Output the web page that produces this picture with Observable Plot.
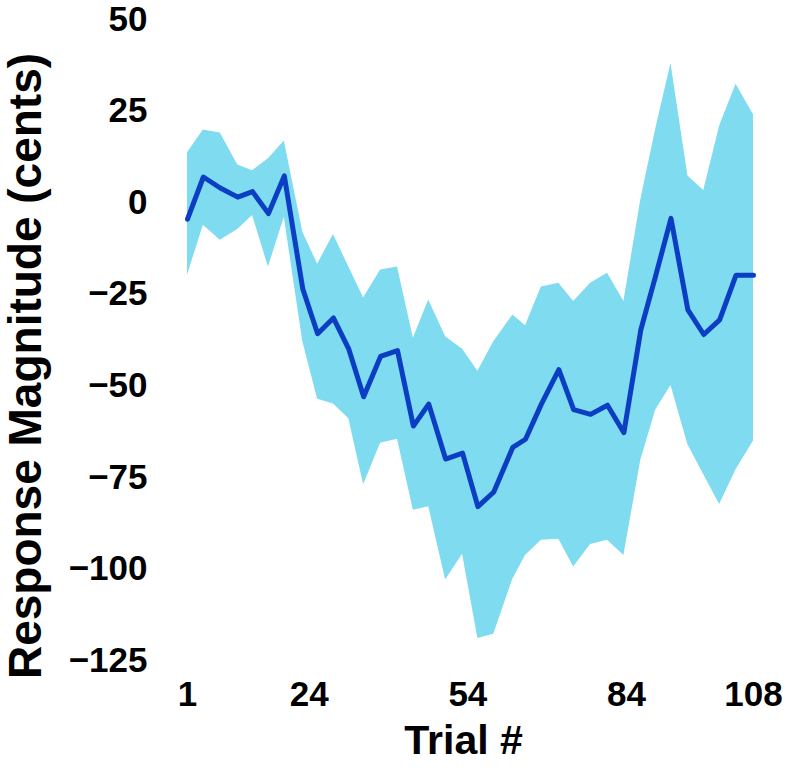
<!DOCTYPE html>
<html>
<head>
<meta charset="utf-8">
<script src="https://cdn.jsdelivr.net/npm/d3@7"></script>
<script src="https://cdn.jsdelivr.net/npm/@observablehq/plot@0.6"></script>
<style>
  html, body { margin: 0; padding: 0; background: #fff; }
</style>
</head>
<body>
<div id="chart"></div>
<script>
const trials = [1, 4.0, 7.2, 10.5, 13.3, 16.3, 19.3, 22.8, 25.6, 28.6, 31.5, 34.3, 37.5, 40.7, 43.7, 46.6, 49.8, 53.0, 55.9, 58.9, 62.5, 64.9, 67.9, 71.2, 74.0, 77.2, 80.4, 83.5, 86.7, 89.5, 92.4, 95.6, 98.6, 101.6, 104.7, 108];
const meanValues = [-4.5, 7, 4, 1.5, 3, -3, 7.3, -23.6, -35.8, -31.5, -40, -53, -42, -40.4, -61, -55, -70, -68.4, -83, -79, -66.8, -64.6, -55, -45.6, -56.5, -57.8, -55.3, -62.8, -34.7, -20, -4.3, -29.3, -36, -32, -19.8, -19.8];
const upperValues = [13.6, 19.8, 19, 10.3, 8.7, 12, 16.8, -8.1, -16.8, -8.7, -17.6, -26, -18.4, -17.6, -37, -26.6, -36.6, -40, -46, -38, -30.7, -33.6, -23, -22, -27, -22, -19.3, -27, 0.8, 20, 38, 7.3, 3.3, 20.9, 32.3, 24];
const lowerValues = [-19.8, -6.2, -10.3, -7.3, -3.5, -17.6, -4, -38, -53.7, -55, -59, -77, -65.7, -64.6, -84, -83, -103, -96, -119, -117.8, -102.8, -96.3, -92.2, -91.9, -99.5, -93.3, -92.2, -96.3, -70.3, -56.7, -49.9, -66.1, -74.3, -82.4, -72.9, -65.1];
const xTicks = [1, 24, 54, 84, 108];
const yTicks = [50, 25, 0, -25, -50, -75, -100, -125];

const data = trials.map((t, i) => ({trial: t, mean: meanValues[i], lo: lowerValues[i], hi: upperValues[i]}));

const font = "'Liberation Sans', Arial, Helvetica, sans-serif";

const chart = Plot.plot({
  width: 787,
  height: 770,
  marginLeft: 187,
  marginRight: 34,
  marginTop: 19,
  marginBottom: 110,
  style: {fontFamily: font, background: "#fff", color: "#000"},
  x: {domain: [1, 108]},
  y: {domain: [-125, 50]},
  marks: [
    Plot.areaY(data, {x: "trial", y1: "lo", y2: "hi", fill: "#7fdbef", fillOpacity: 1}),
    Plot.line(data, {x: "trial", y: "mean", stroke: "#0c3ec4", strokeWidth: 5, strokeLinejoin: "round"}),
    Plot.axisX({ticks: xTicks, tickSize: 0, tickPadding: 21, fontSize: 35, fontWeight: "bold", label: null, tickFormat: d => String(d)}),
    Plot.axisY({ticks: yTicks, tickSize: 0, tickPadding: 40, fontSize: 35, fontWeight: "bold", label: null}),
    Plot.text(["Response Magnitude (cents)"], {frameAnchor: "left", dx: -161, dy: 26, rotate: -90, fontSize: 46, fontWeight: "bold", lineAnchor: "middle", textAnchor: "middle", fill: "#000"}),
    Plot.text(["Trial #"], {frameAnchor: "bottom", dx: -7, dy: 80, fontSize: 41, fontWeight: "bold", lineAnchor: "middle", textAnchor: "middle", fill: "#000"})
  ]
});
document.getElementById("chart").appendChild(chart);
</script>
</body>
</html>
